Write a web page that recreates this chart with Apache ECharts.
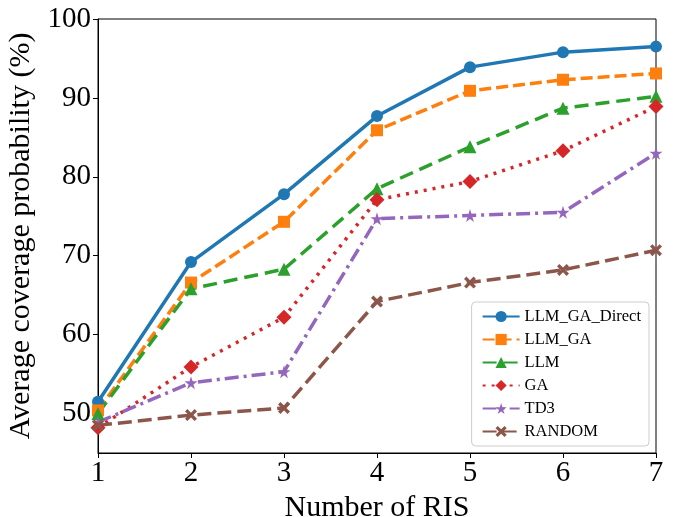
<!DOCTYPE html>
<html>
<head>
<meta charset="utf-8">
<script src="https://cdn.jsdelivr.net/npm/echarts@6/dist/echarts.min.js"></script>
<style>
  html, body { margin: 0; padding: 0; background: #fff; }
  #chart { width: 677px; height: 517px; }
</style>
</head>
<body>
<div id="chart"></div>
<script>
// data
var risCounts = [1, 2, 3, 4, 5, 6, 7]
var yTicks = [50, 60, 70, 80, 90, 100]
var llmGaDirect = [51.5, 69.2, 77.8, 87.7, 93.9, 95.8, 96.5]
var llmGa = [50.4, 66.6, 74.3, 85.9, 90.9, 92.3, 93.1]
var llm = [50.0, 65.8, 68.3, 78.5, 83.8, 88.7, 90.2]
var ga = [48.2, 55.9, 62.2, 77.1, 79.4, 83.3, 88.9]
var td3 = [48.9, 53.9, 55.3, 74.7, 75.1, 75.5, 83.0]
var randomBase = [48.5, 49.8, 50.7, 64.2, 66.6, 68.2, 70.7]

var font = 'Liberation Serif'
var starPath = 'path://M50,0 L61,35 L98,35 L68,57 L79,91 L50,70 L21,91 L32,57 L2,35 L39,35 Z'
var xPath = 'path://M20,0 L50,30 L80,0 L100,20 L70,50 L100,80 L80,100 L50,70 L20,100 L0,80 L30,50 L0,20 Z'

function pairs (ys) {
  return risCounts.map(function (x, i) { return [x, ys[i]] })
}

function makeSeries (name, ys, color, dash, symbol, size) {
  return {
    name: name,
    type: 'line',
    data: pairs(ys),
    symbol: symbol,
    symbolSize: size,
    showSymbol: true,
    color: color,
    lineStyle: { width: 3.5, type: dash, color: color },
    itemStyle: { color: color },
    z: 2
  }
}

var chart = echarts.init(document.getElementById('chart'))
chart.setOption({
  animation: false,
  grid: {
    left: 98, right: 21, top: 19, bottom: 64,
    outerBoundsMode: 'none',
    show: true, borderColor: '#000', borderWidth: 1
  },
  legend: {
    orient: 'vertical',
    right: 28, bottom: 71,
    padding: [6, 8, 6, 10],
    itemGap: 6,
    itemWidth: 37, itemHeight: 14,
    borderColor: '#ccc', borderWidth: 1, borderRadius: 4,
    backgroundColor: 'rgba(255,255,255,0.85)',
    textStyle: { fontFamily: font, fontSize: 16.5, color: '#000' },
    data: ['LLM_GA_Direct', 'LLM_GA', 'LLM', 'GA', 'TD3', 'RANDOM']
  },
  xAxis: {
    type: 'value', min: 1, max: 7, interval: 1,
    name: 'Number of RIS', nameLocation: 'middle', nameGap: 35,
    nameTextStyle: { fontFamily: font, fontSize: 30, color: '#000' },
    axisLine: { lineStyle: { color: '#000', width: 1 } },
    axisTick: { length: 5, lineStyle: { color: '#000' } },
    axisLabel: { fontFamily: font, fontSize: 29, color: '#000', margin: 6 },
    splitLine: { show: false }
  },
  yAxis: {
    type: 'value', min: 45, max: 100,
    name: 'Average coverage probability (%)', nameLocation: 'middle', nameGap: 53,
    nameTextStyle: { fontFamily: font, fontSize: 30, color: '#000' },
    axisLine: { show: true, lineStyle: { color: '#000', width: 1 } },
    axisTick: { show: true, length: 5, lineStyle: { color: '#000' }, customValues: yTicks },
    axisLabel: { fontFamily: font, fontSize: 29, color: '#000', margin: 7, customValues: yTicks },
    splitLine: { show: false }
  },
  series: [
    makeSeries('LLM_GA_Direct', llmGaDirect, '#1f77b4', 'solid', 'circle', 12),
    makeSeries('LLM_GA', llmGa, '#ff7f0e', [12, 5], 'rect', 12),
    makeSeries('LLM', llm, '#2ca02c', [14, 7], 'triangle', 13),
    makeSeries('GA', ga, '#d62728', [3, 6], 'diamond', 15),
    makeSeries('TD3', td3, '#9467bd', [14, 5, 3, 5], starPath, 13),
    makeSeries('RANDOM', randomBase, '#8c564b', [14, 6], xPath, 12)
  ]
})
</script>
</body>
</html>
